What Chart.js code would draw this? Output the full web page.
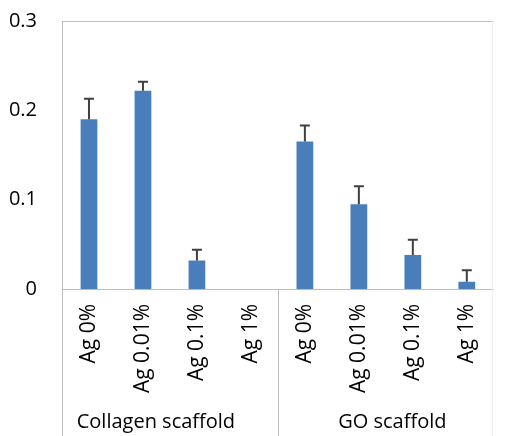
<!DOCTYPE html>
<html lang="en">
<head>
    <meta charset="UTF-8">
    <title>Scaffold bar chart</title>
    <script src="https://cdn.jsdelivr.net/npm/chart.js@4.4.0/dist/chart.umd.min.js"></script>
    <style>
        body { margin: 0; background: #fff; }
    </style>
</head>
<body>
    <canvas id="chart" width="507" height="436"></canvas>

    <script>
        // data
        const categories = ['Ag 0%', 'Ag 0.01%', 'Ag 0.1%', 'Ag 1%', 'Ag 0%', 'Ag 0.01%', 'Ag 0.1%', 'Ag 1%'];
        const values = [0.19, 0.222, 0.032, 0, 0.165, 0.095, 0.038, 0.008];
        const errors = [0.023, 0.010, 0.012, 0, 0.018, 0.020, 0.017, 0.013];
        const groups = ['Collagen scaffold', 'GO scaffold'];
        const groupCenters = [1.24, 5.62];   // position along category index
        const yTickLabels = ['0', '0.1', '0.2', '0.3'];

        const lineGray = '#bcbcbc';
        const textColor = '#000';

        // frame lines, category separators and group labels
        const framePlugin = {
            id: 'frame',
            afterDraw(chart) {
                const ctx = chart.ctx;
                const area = chart.chartArea;
                const x = chart.scales.x;
                const h = chart.height;
                ctx.save();
                ctx.lineWidth = 1;
                ctx.strokeStyle = lineGray;
                ctx.beginPath();
                ctx.moveTo(area.left + 0.5, area.top + 0.5);
                ctx.lineTo(area.right, area.top + 0.5);
                ctx.moveTo(area.left + 0.5, area.top);
                ctx.lineTo(area.left + 0.5, h);
                ctx.moveTo(area.left, area.bottom + 0.5);
                ctx.lineTo(area.right, area.bottom + 0.5);
                const sep = Math.round(x.getPixelForValue(3.5)) + 0.5;
                ctx.moveTo(sep, area.bottom);
                ctx.lineTo(sep, h);
                ctx.stroke();
                // faint right edge
                ctx.strokeStyle = '#ececec';
                ctx.beginPath();
                ctx.moveTo(area.right - 1.5, area.top);
                ctx.lineTo(area.right - 1.5, h);
                ctx.stroke();

                ctx.fillStyle = textColor;
                ctx.font = "20px 'Open Sans', sans-serif";
                ctx.textAlign = 'center';
                ctx.textBaseline = 'middle';
                groups.forEach((g, i) => {
                    ctx.fillText(g, x.getPixelForValue(groupCenters[i]), 422);
                });
                ctx.restore();
            }
        };

        // upper error bars
        const errorBarPlugin = {
            id: 'errorBars',
            afterDatasetsDraw(chart) {
                const ctx = chart.ctx;
                const y = chart.scales.y;
                const meta = chart.getDatasetMeta(0);
                ctx.save();
                ctx.strokeStyle = '#404040';
                ctx.lineWidth = 2;
                meta.data.forEach((bar, i) => {
                    if (!errors[i]) return;
                    const top = y.getPixelForValue(values[i] + errors[i]);
                    ctx.beginPath();
                    ctx.moveTo(bar.x, bar.y);
                    ctx.lineTo(bar.x, top);
                    ctx.moveTo(bar.x - 5, top);
                    ctx.lineTo(bar.x + 5, top);
                    ctx.stroke();
                });
                ctx.restore();
            }
        };

        const ctx = document.getElementById('chart').getContext('2d');
        const myChart = new Chart(ctx, {
            type: 'bar',
            data: {
                labels: categories,
                datasets: [
                    {
                        data: values,
                        backgroundColor: '#4a7ebb',
                        borderWidth: 0,
                        categoryPercentage: 1,
                        barPercentage: 0.31
                    }
                ]
            },
            options: {
                responsive: false,
                animation: false,
                layout: {
                    padding: { top: 21, right: 0, bottom: 0, left: 0 }
                },
                plugins: {
                    legend: { display: false },
                    tooltip: { enabled: false }
                },
                scales: {
                    x: {
                        grid: { display: false, drawTicks: false },
                        border: { display: false },
                        ticks: {
                            color: textColor,
                            font: { family: "'Open Sans', sans-serif", size: 21 },
                            minRotation: 90,
                            maxRotation: 90,
                            autoSkip: false,
                            padding: 15
                        },
                        afterFit: function(scale) {
                            scale.height = 147;
                        }
                    },
                    y: {
                        min: 0,
                        max: 0.3,
                        grid: { display: false, drawTicks: false },
                        border: { display: false },
                        ticks: {
                            stepSize: 0.1,
                            color: textColor,
                            font: { family: "'Open Sans', sans-serif", size: 20 },
                            padding: 25,
                            callback: function(value, index) {
                                return yTickLabels[index];
                            }
                        },
                        afterFit: function(scale) {
                            scale.width = 62;
                            // tick padding should not push the plot down
                            scale.paddingTop = 0;
                            scale.paddingBottom = 0;
                        }
                    }
                }
            },
            plugins: [framePlugin, errorBarPlugin]
        });
    </script>
</body>
</html>
